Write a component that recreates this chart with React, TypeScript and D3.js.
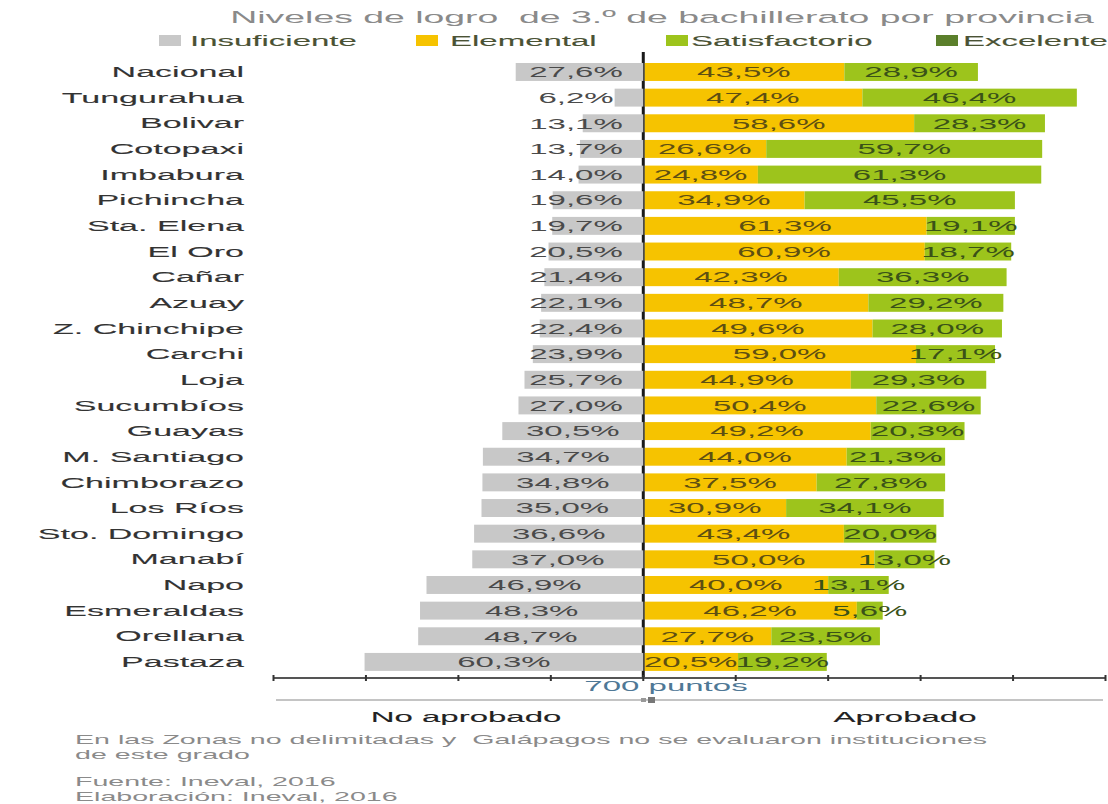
import React from "react";
import * as d3 from "d3";

const categories = ["Nacional","Tungurahua","Bolivar","Cotopaxi","Imbabura","Pichincha","Sta. Elena","El Oro","Cañar","Azuay","Z. Chinchipe","Carchi","Loja","Sucumbíos","Guayas","M. Santiago","Chimborazo","Los Ríos","Sto. Domingo","Manabí","Napo","Esmeraldas","Orellana","Pastaza"];
const insuficiente = [27.6,6.2,13.1,13.7,14.0,19.6,19.7,20.5,21.4,22.1,22.4,23.9,25.7,27.0,30.5,34.7,34.8,35.0,36.6,37.0,46.9,48.3,48.7,60.3];
const elemental = [43.5,47.4,58.6,26.6,24.8,34.9,61.3,60.9,42.3,48.7,49.6,59.0,44.9,50.4,49.2,44.0,37.5,30.9,43.4,50.0,40.0,46.2,27.7,20.5];
const satisfactorio = [28.9,46.4,28.3,59.7,61.3,45.5,19.1,18.7,36.3,29.2,28.0,17.1,29.3,22.6,20.3,21.3,27.8,34.1,20.0,13.0,13.1,5.6,23.5,19.2];
const ticks = [-80,-60,-40,-20,0,20,40,60,80,100];
const legendItems = ["Insuficiente","Elemental","Satisfactorio","Excelente"];
const legendColors = ["#c8c8c8","#f6c300","#9dc41c","#5b7f2b"];
const title = "Niveles de logro  de 3.º de bachillerato por provincia";
const notes = ["En las Zonas no delimitadas y  Galápagos no se evaluaron instituciones","de este grado","Fuente: Ineval, 2016","Elaboración: Ineval, 2016"];

const SX = 2.2;
const FONT = "'Liberation Sans', Arial, sans-serif";

function T({x,y,anchor="start",size=15,fill="#333",sx=SX,sw=0,children}:{x:number;y:number;anchor?:string;size?:number;fill?:string;sx?:number;sw?:number;children:any}) {
  return (
    <text transform={`translate(${x},${y}) scale(${sx},1)`} textAnchor={anchor as any} fontSize={size} fill={fill}
      stroke={sw ? fill : "none"} strokeWidth={sw} dominantBaseline="central" fontFamily={FONT}
      xmlSpace="preserve" style={{whiteSpace:"pre"}}>{children}</text>
  );
}

const fmt = (v:number) => v.toFixed(1).replace(".", ",") + "%";

export default function App() {
  const W = 1108, H = 804;
  const x = d3.scaleLinear().domain([-80,100]).range([273.5,1105.5]);
  const y = d3.scaleBand<string>().domain(categories).range([59.15,674.75]).paddingInner(0.3).paddingOuter(0.15);
  const bw = y.bandwidth();
  const x0 = x(0);
  const legendSq = [159,416,666,936];
  const legendTx = [190,450,691,963];

  return (
    <svg width={W} height={H} style={{position:"absolute",left:0,top:0,background:"#fff"}}>
      <rect width={W} height={H} fill="#fff"/>
      <T x={662} y={17} anchor="middle" size={17} fill="#8a8a8a">{title}</T>
      {legendItems.map((l,i)=>(
        <g key={l}>
          <rect x={legendSq[i]} y={35} width={22} height={11} fill={legendColors[i]}/>
          <T x={legendTx[i]} y={40.5} size={15} fill="#4a5234" sw={0.1}>{l}</T>
        </g>
      ))}
      <line x1={x0} x2={x0} y1={52} y2={678} stroke="#1a1a1a" strokeWidth={3}/>
      {categories.map((c,i)=>{
        const yy = y(c)!;
        const cy = yy + bw/2;
        const a = insuficiente[i], b = elemental[i], s = satisfactorio[i];
        const grayCenter = Math.min((x(-a)+x0)/2, 576);
        return (
          <g key={c}>
            <T x={244} y={cy} anchor="end" size={15} sx={2.27} fill="#333" sw={0.1}>{c}</T>
            <rect x={x(-a)} y={yy} width={x0-x(-a)} height={bw} fill="#c8c8c8"/>
            <rect x={x0+1.5} y={yy} width={x(b)-x0-1.5} height={bw} fill="#f6c300"/>
            <rect x={x(b)} y={yy} width={x(b+s)-x(b)} height={bw} fill="#9dc41c"/>
            <T x={grayCenter} y={cy} anchor="middle" size={15} fill="#4a4a4a">{fmt(a)}</T>
            <T x={(x0+x(b))/2} y={cy} anchor="middle" size={15} fill="#5e4f12">{fmt(b)}</T>
            <T x={(x(b)+x(b+s))/2} y={cy} anchor="middle" size={15} fill="#3a5218">{fmt(s)}</T>
          </g>
        );
      })}
      <line x1={x(-80)} x2={x(100)} y1={678} y2={678} stroke="#555" strokeWidth={2}/>
      {ticks.map(t=>(
        <line key={t} x1={x(t)} x2={x(t)} y1={675} y2={681} stroke="#333" strokeWidth={2}/>
      ))}
      <T x={666} y={686} anchor="middle" size={15} fill="#4f7896">700 puntos</T>
      <line x1={276} x2={1103} y1={700} y2={700} stroke="#b0b0b0" strokeWidth={1.5}/>
      <rect x={641} y={698} width={5} height={4} fill="#999"/>
      <rect x={648} y={697} width={7} height={6} fill="#777"/>
      <T x={466} y={717} anchor="middle" size={15} fill="#222" sw={0.1}>No aprobado</T>
      <T x={905} y={717} anchor="middle" size={15} fill="#222" sw={0.1}>Aprobado</T>
      <T x={75} y={740} size={13} fill="#8a8a8a">{notes[0]}</T>
      <T x={75} y={755} size={13} fill="#8a8a8a">{notes[1]}</T>
      <T x={75} y={782} size={13} fill="#8a8a8a">{notes[2]}</T>
      <T x={75} y={797} size={13} fill="#8a8a8a">{notes[3]}</T>
    </svg>
  );
}
